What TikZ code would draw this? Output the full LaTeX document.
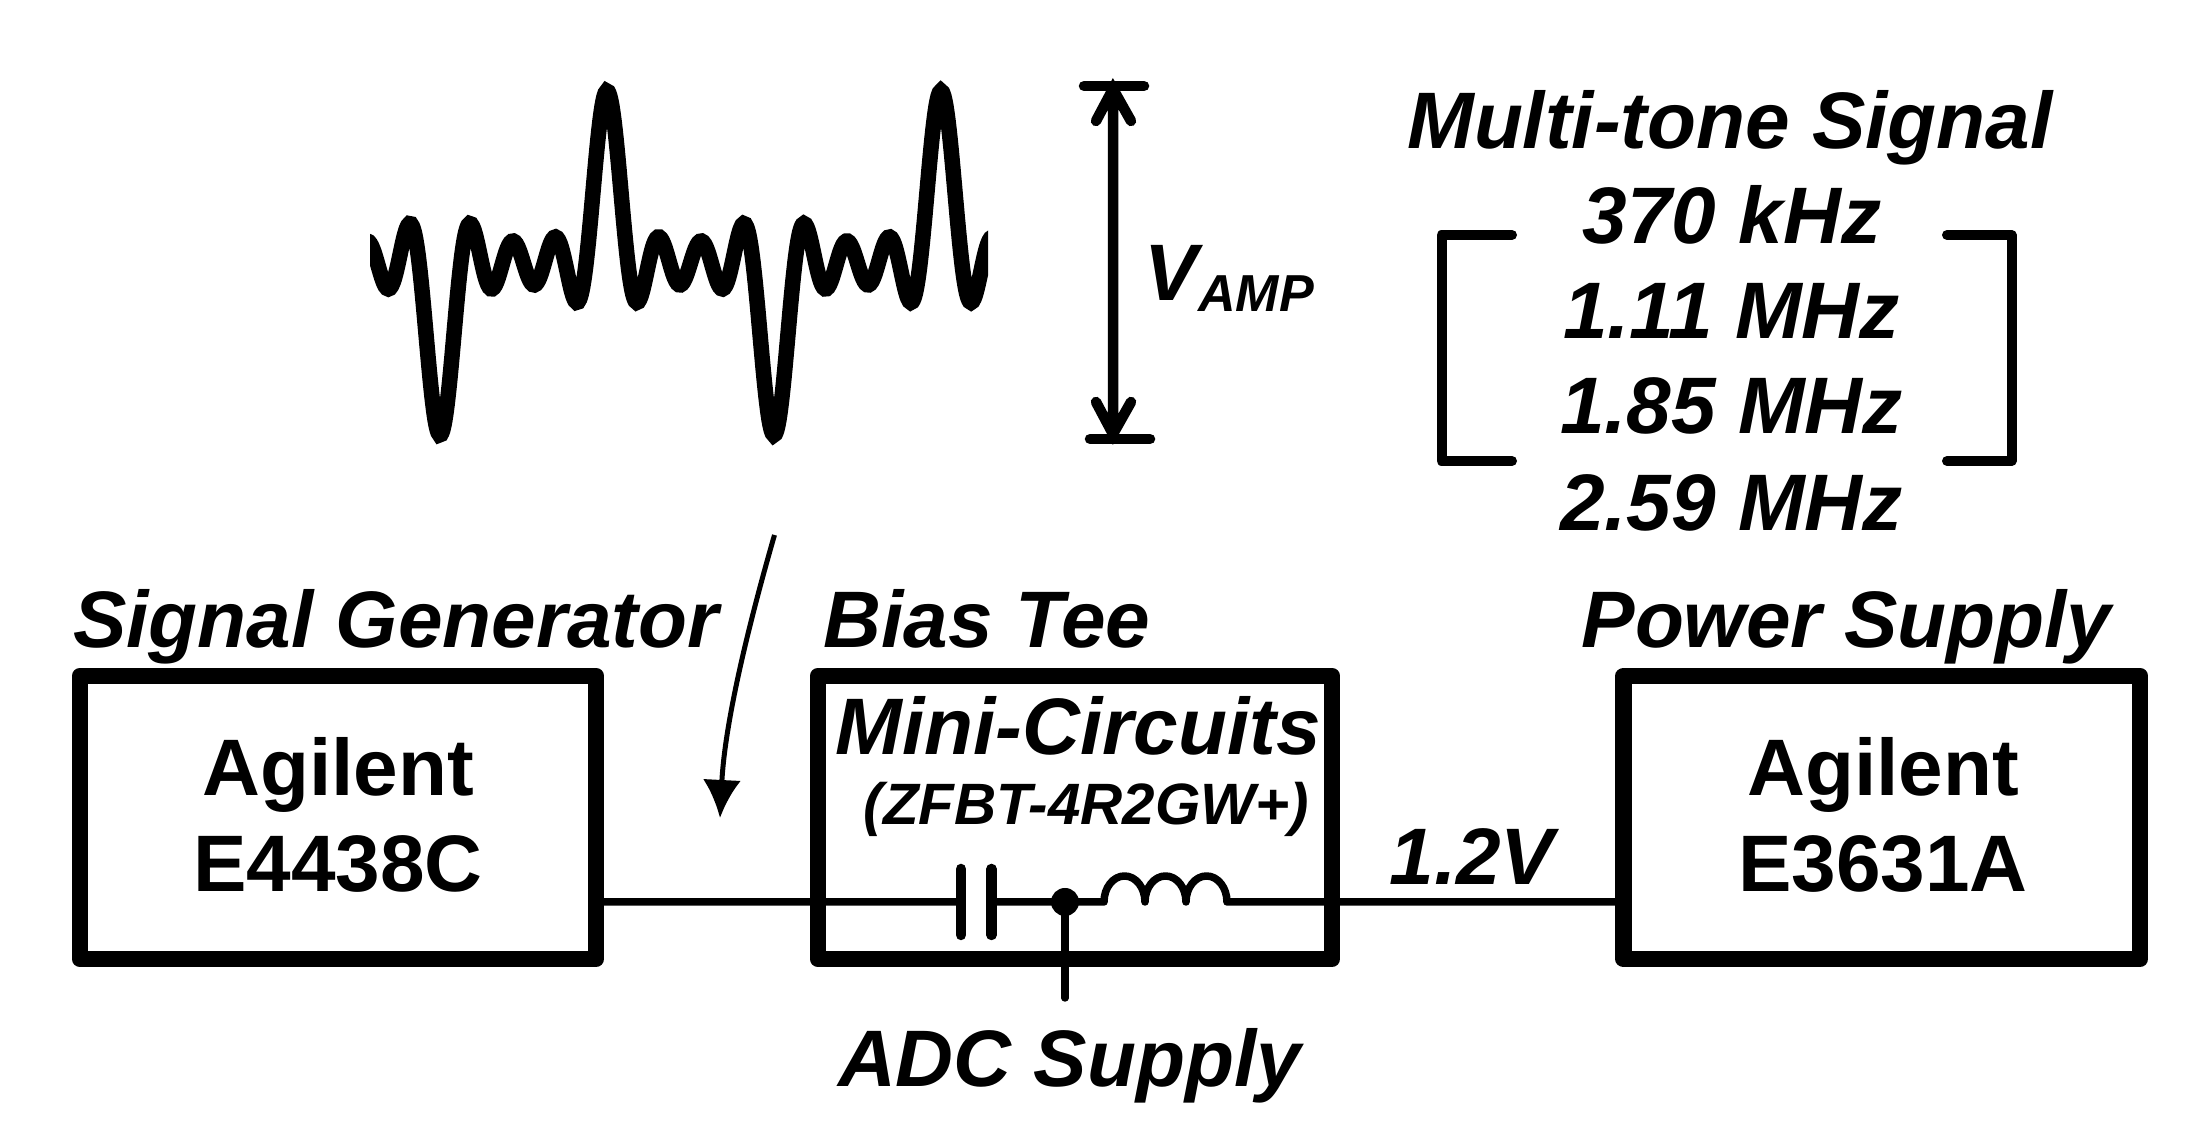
\documentclass[tikz,border=0pt]{standalone}
\usepackage{fontspec}
\setmainfont{Liberation Sans}
\usetikzlibrary{arrows.meta}
\tikzset{
  lab/.style={font=\fontsize{22.8pt}{26pt}\selectfont\bfseries\itshape, inner sep=0pt, anchor=base},
  brand/.style={font=\fontsize{22.8pt}{26pt}\selectfont\bfseries, inner sep=0pt, anchor=base},
  box/.style={line width=1.65mm, line join=round},
  wire/.style={line width=.75mm, line cap=round, line join=round},
  thick wire/.style={line width=1.05mm, line cap=round},
}
\begin{document}
\begin{tikzpicture}[>={Latex[length=3.8mm,width=3.8mm]}]
    \useasboundingbox (0,0) rectangle (220.4mm,113.8mm);

    % boxes
    \draw [box] (8mm,17.9mm) rectangle (59.6mm,46.2mm);
    \draw [box] (81.8mm,17.9mm) rectangle (133.2mm,46.2mm);
    \draw [box] (162.35mm,17.9mm) rectangle (214mm,46.2mm);
    \coordinate (gen) at (59.6mm,23.6mm);
    \coordinate (cl) at (96.1mm,23.6mm);
    \coordinate (cr) at (99.15mm,23.6mm);
    \coordinate (dot) at (106.5mm,23.6mm);
    \coordinate (ll) at (110.4mm,23.6mm);
    \coordinate (sup) at (162.35mm,23.6mm);
    \coordinate (adc) at (106.5mm,14mm);

    % wires
    \draw [wire] (gen) -- (cl) (cr) -- (dot) -- (ll)
    arc (180:0:2.05mm and 2.6mm) arc (180:0:2.05mm and 2.6mm) arc (180:0:2.05mm and 2.6mm) -- (sup);
    \draw [wire] (dot) -- (adc);
    \draw [thick wire]
    (96.1mm,20.3mm) -- (96.1mm,26.9mm)
    (99.15mm,20.3mm) -- (99.15mm,26.9mm);
    \node (joint) [circle, fill, inner sep=0, minimum size=2.8mm] at (dot) {};

    % labels
    \node (siggen) [lab] at (39.6mm,49mm) {Signal Generator};
    \node (biastee) [lab] at (98.7mm,49mm) {Bias Tee};
    \node (pwr) [lab] at (184.65mm,49mm) {Power Supply};
    \node (agil1) [brand] at (33.8mm,34.25mm) {Agilent};
    \node (e4438) [brand] at (33.8mm,24.6mm) {E4438C};
    \node (agil2) [brand] at (188.3mm,34.25mm) {Agilent};
    \node (e3631) [brand] at (188.3mm,24.6mm) {E3631A};
    \node (mini) [lab] at (107.8mm,38.3mm) {Mini-Circuits};
    \node (model) [lab, font=\fontsize{16.6pt}{18pt}\selectfont\bfseries\itshape] at (108.65mm,31.3mm) {(ZFBT-4R2GW+)};
    \node (vdc) [lab] at (147.2mm,25.3mm) {1.2V};
    \node (adclab) [lab] at (106.95mm,5.1mm) {ADC Supply};

    % waveform
    \begin{scope}
    \clip (37mm,60mm) rectangle (98.8mm,110mm);
    \draw [line width=1.55mm, domain=-260:420, samples=420, smooth]
    plot ({(60.7+\x*33.4/360)*1mm}, {(87.5+4.3*(cos(\x)+cos(3*\x)+cos(5*\x)+cos(7*\x)))*1mm});
    \end{scope}

    % amplitude arrow
    \coordinate (top) at (111.3mm,104.9mm);
    \coordinate (bot) at (111.3mm,70.4mm);
    \draw [thick wire] (108.4mm,105.2mm) -- (114.4mm,105.2mm)
    (109mm,69.9mm) -- (115mm,69.9mm);
    \draw [thick wire] (top) -- (bot)
    (109.6mm,101.7mm) -- (top) -- (113.1mm,101.7mm)
    (109.6mm,73.6mm) -- (bot) -- (113.1mm,73.6mm);
    \node (vamp) [lab, anchor=base west] at (114.4mm,83.7mm) {V\raisebox{-1.1mm}{\fontsize{14.8pt}{17pt}\selectfont AMP}};

    % signal arrow
    \draw [line width=.5mm, ->] (77.45mm,60.3mm) .. controls (75mm,51.8mm) and (72.5mm,41.8mm) .. (72mm,32mm);

    % tones
    \node (multi) [lab] at (173mm,98.95mm) {Multi-tone Signal};
    \node (t1) [lab] at (173.2mm,89.4mm) {370 kHz};
    \node (t2) [lab] at (173.15mm,79.9mm) {1.11 MHz};
    \node (t3) [lab] at (173.15mm,70.4mm) {1.85 MHz};
    \node (t4) [lab] at (173.15mm,60.7mm) {2.59 MHz};
    \draw [line width=1mm, line cap=round, line join=round]
    (151.2mm,90.3mm) -- (144.15mm,90.3mm) -- (144.15mm,67.7mm) -- (151.2mm,67.7mm)
    (194.7mm,90.3mm) -- (201.15mm,90.3mm) -- (201.15mm,67.7mm) -- (194.7mm,67.7mm);
  \end{tikzpicture}
\end{document}
